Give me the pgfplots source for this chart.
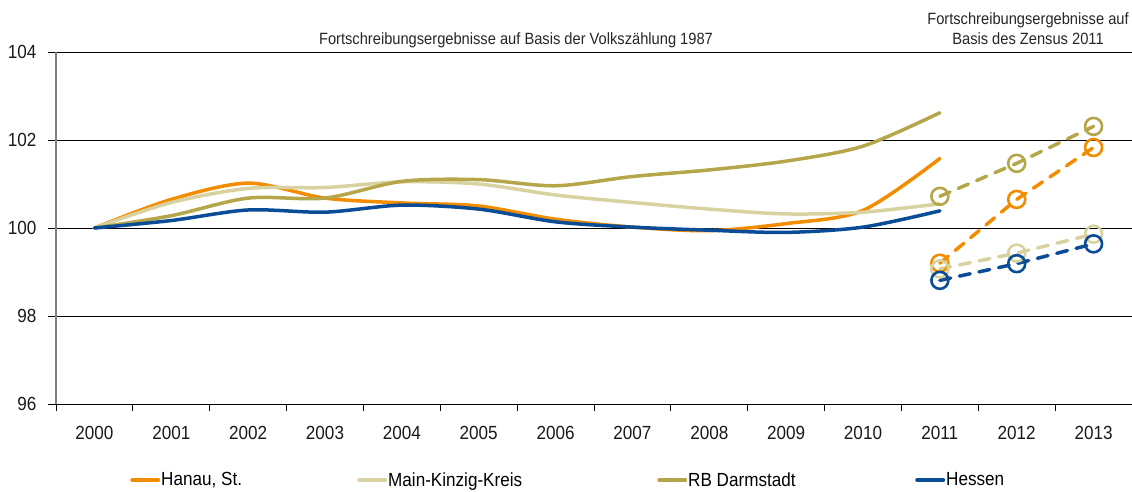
\documentclass[border=0pt]{standalone}
\usepackage{fontspec}
\setmainfont{Liberation Sans}[FakeStretch=0.9]
\usepackage{pgfplots}
\pgfplotsset{compat=1.18}
\definecolor{hanau}{RGB}{242,140,0}
\definecolor{kinzig}{RGB}{216,210,160}
\definecolor{darm}{RGB}{181,166,74}
\definecolor{hessen}{RGB}{10,77,150}
\begin{document}
\begin{tikzpicture}
\useasboundingbox (0,0) rectangle (1132pt,491pt);
\begin{axis}[
  at={(56pt,87pt)}, anchor=south west,
  width=1076pt, height=352pt, scale only axis,
  xmin=-0.5, xmax=13.5, ymin=96, ymax=104,
  axis x line=bottom, axis y line=left,
  x axis line style={-, black, line width=1pt},
  y axis line style={-, gray, line width=1.6pt},
  xtick={0,...,13},
  xticklabels={2000,2001,2002,2003,2004,2005,2006,2007,2008,2009,2010,2011,2012,2013},
  minor xtick={-0.5,0.5,...,13.5},
  major x tick style={draw=none},
  minor x tick style={black, line width=1pt},
  major y tick style={black, line width=1pt},
  tick align=outside,
  major tick length=8pt, minor tick length=7pt,
  ytick={96,98,100,102,104},
  ymajorgrids, grid style={black, line width=0.9pt},
  /pgf/number format/assume math mode=true,
  tick label style={font=\fontsize{19}{22}\selectfont, text=black!90},
  yticklabel style={xshift=-8pt},
  xticklabel style={yshift=-11pt},
  legend columns=4,
  legend style={at={(axis description cs:0.0688,-0.216)}, anchor=west,
    draw=none, fill=none, inner sep=0pt,
    font=\fontsize{19}{22}\selectfont,
    /tikz/every even column/.append style={column sep=0pt},
    nodes={inner sep=1pt}},
  legend image code/.code={\draw[line width=4pt, line cap=round] (2pt,0pt) -- (28pt,0pt);},
  every axis plot/.append style={line width=3.5pt, line cap=round},
]
\addplot[hanau, smooth] coordinates {(0,100) (1,100.65) (2,101.02) (3,100.68) (4,100.57) (5,100.5) (6,100.2) (7,100.02) (8,99.94) (9,100.1) (10,100.4) (11,101.58)};
\addlegendentry{\makebox[195pt][l]{Hanau, St.}}
\addplot[kinzig, smooth] coordinates {(0,100) (1,100.58) (2,100.9) (3,100.92) (4,101.05) (5,101.0) (6,100.75) (7,100.58) (8,100.43) (9,100.32) (10,100.36) (11,100.55)};
\addlegendentry{\makebox[268pt][l]{Main-Kinzig-Kreis}}
\addplot[darm, smooth] coordinates {(0,100) (1,100.28) (2,100.68) (3,100.68) (4,101.06) (5,101.1) (6,100.96) (7,101.17) (8,101.32) (9,101.52) (10,101.86) (11,102.62)};
\addlegendentry{\makebox[226pt][l]{RB Darmstadt}}
\addplot[hessen, smooth] coordinates {(0,100) (1,100.17) (2,100.41) (3,100.36) (4,100.52) (5,100.43) (6,100.14) (7,100.02) (8,99.95) (9,99.9) (10,100.02) (11,100.39)};
\addlegendentry{Hessen}
\addplot[hanau, dash pattern=on 11pt off 9pt, mark=o, mark size=8.5pt, mark options={solid, line width=2.6pt, fill=none}, forget plot] coordinates {(11,99.2) (12,100.65) (13,101.83)};
\addplot[kinzig, dash pattern=on 11pt off 9pt, mark=o, mark size=8.5pt, mark options={solid, line width=2.6pt, fill=none}, forget plot] coordinates {(11,99.07) (12,99.43) (13,99.86)};
\addplot[darm, dash pattern=on 11pt off 9pt, mark=o, mark size=8.5pt, mark options={solid, line width=2.6pt, fill=none}, forget plot] coordinates {(11,100.72) (12,101.47) (13,102.31)};
\addplot[hessen, dash pattern=on 11pt off 9pt, mark=o, mark size=8.5pt, mark options={solid, line width=2.6pt, fill=none}, forget plot] coordinates {(11,98.81) (12,99.19) (13,99.64)};
\end{axis}
\node[font=\fontsize{16.3}{18}\selectfont, text=black!85] at (516pt,451pt) {Fortschreibungsergebnisse auf Basis der Volkszählung 1987};
\node[font=\fontsize{16.3}{18}\selectfont, text=black!85, align=center] at (1028pt,462pt) {Fortschreibungsergebnisse auf\\[2pt]Basis des Zensus 2011};
\end{tikzpicture}
\end{document}
